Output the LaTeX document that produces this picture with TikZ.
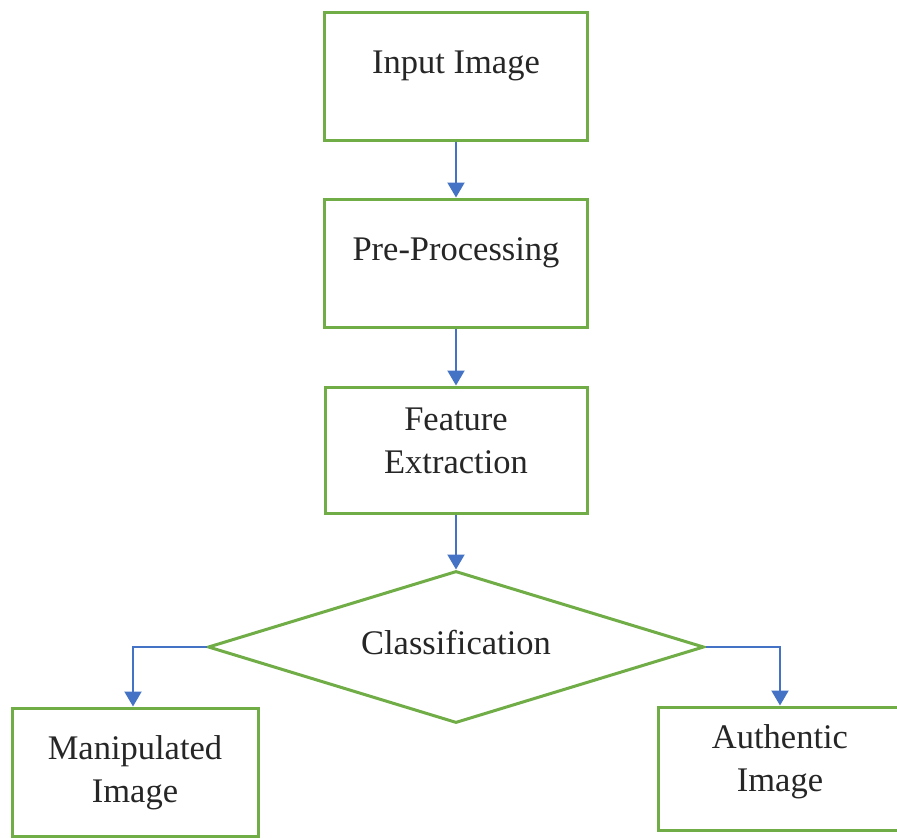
\documentclass[tikz,border=0pt]{standalone}
\usepackage{fontspec}
\setmainfont{Liberation Serif}
\usetikzlibrary{shapes.geometric,arrows.meta,calc}
\definecolor{boxgreen}{HTML}{70AD47}
\definecolor{arrblue}{HTML}{4472C4}
\begin{document}
\begin{tikzpicture}[x=1pt,y=-1pt,
  box/.style={draw=boxgreen,line width=3pt,fill=white,inner sep=0pt},
  dia/.style={diamond,draw=boxgreen,line width=3pt,fill=white,inner sep=0pt,minimum width=496pt,minimum height=152pt},
  txt/.style={font=\fontsize{34.5}{43}\selectfont,align=center,text=black!85,inner sep=0pt},
  arr/.style={draw=arrblue,line width=2pt,-{Triangle[width=17pt,length=15pt]}}]
\clip (0,0) rectangle (897,838);
\useasboundingbox (0,0) rectangle (897,838);
\fill[white] (0,0) rectangle (897,838);
% boxes
\node[box,minimum width=263pt,minimum height=128pt] (in) at (456,76) {};
\node[box,minimum width=263pt,minimum height=128pt] (pre) at (456,263) {};
\node[box,minimum width=262pt,minimum height=126pt] (feat) at (456,450) {};
\node[dia] (cls) at (456,647) {};
\node[box,minimum width=246pt,minimum height=128pt] (man) at (135,772) {};
\node[box,minimum width=246pt,minimum height=123pt] (aut) at (781,768.5) {};
% texts
\node[txt] (in-t) at (456,66) {Input Image};
\node[txt] (pre-t) at (456,253) {Pre-Processing};
\node[txt] (feat-t) at (456,441) {Feature\\Extraction};
\node[txt] (cls-t) at (456,643) {Classification};
\node[txt] (man-t) at (135,773) {Manipulated\\Image};
\node[txt] (aut-t) at (780,762) {Authentic\\Image};
% connectors
\draw[arr] (in.south) -- (pre.north);
\draw[arr] (pre.south) -- (feat.north);
\draw[arr] (feat.south) -- (cls.north);
\draw[arr] (cls.west) -| ($(man.north)+(-2,0)$);
\draw[arr] (cls.east) -| ($(aut.north)+(-1,0)$);
\end{tikzpicture}
\end{document}
